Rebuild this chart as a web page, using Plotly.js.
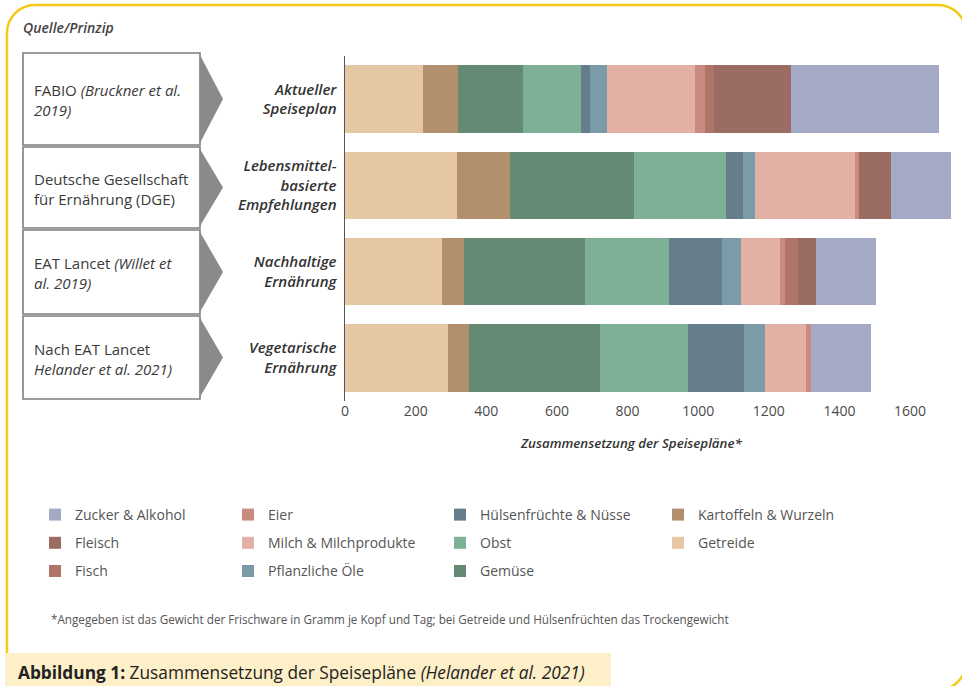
<!DOCTYPE html>
<html>
<head>
<meta charset="utf-8">
<script src="https://cdn.plot.ly/plotly-3.0.1.min.js"></script>
<style>
  html, body { margin: 0; padding: 0; background: #ffffff; }
  #chart { width: 962px; height: 686px; }
</style>
</head>
<body>
<div id="chart"></div>
<script>
// Diets (y categories) and their axis labels
const dietKeys = ['Aktueller Speiseplan', 'Lebensmittelbasierte Empfehlungen', 'Nachhaltige Ernährung', 'Vegetarische Ernährung'];
const dietLabels = ['Aktueller<br>Speiseplan', 'Lebensmittel-<br>basierte<br>Empfehlungen', 'Nachhaltige<br>Ernährung', 'Vegetarische<br>Ernährung'];

// Source / principle for each diet
const sourceLabels = [
  'FABIO <i>(Bruckner et al.</i><br><i>2019)</i>',
  'Deutsche Gesellschaft<br>für Ernährung (DGE)',
  'EAT Lancet <i>(Willet et</i><br><i>al. 2019)</i>',
  'Nach EAT Lancet<br><i>Helander et al. 2021)</i>'
];

// Food groups in stacking order (g per person and day)
const getreide      = [222, 317, 276, 293];
const kartoffeln    = [ 99, 150,  60,  59];
const gemuese       = [182, 351, 344, 369];
const obst          = [166, 260, 238, 251];
const huelsen       = [ 24,  50, 150, 159];
const oele          = [ 49,  32,  53,  59];
const milch         = [250, 283, 111, 116];
const eier          = [ 27,  13,  15,  13];
const fisch         = [ 26,   0,  35,   0];
const fleisch       = [218,  90,  51,   0];
const zucker        = [418, 171, 171, 171];

const groupNames = ['Getreide', 'Kartoffeln & Wurzeln', 'Gemüse', 'Obst', 'Hülsenfrüchte & Nüsse',
  'Pflanzliche Öle', 'Milch & Milchprodukte', 'Eier', 'Fisch', 'Fleisch', 'Zucker & Alkohol'];
const groupValues = [getreide, kartoffeln, gemuese, obst, huelsen, oele, milch, eier, fisch, fleisch, zucker];
const groupColors = ['#e5c8a3', '#b3906d', '#648a73', '#7db095', '#667d8c',
  '#7c9ba8', '#e2b0a5', '#c98a7f', '#b07468', '#9a6c63', '#a4a9c5'];
// legend column of each group
const groupLegend = ['legend4', 'legend4', 'legend3', 'legend3', 'legend3',
  'legend2', 'legend2', 'legend2', 'legend', 'legend', 'legend'];
// position of each group within its legend column (top to bottom)
const groupRank = [2, 1, 3, 2, 1, 3, 2, 1, 3, 2, 1];

const tickValues = [0, 200, 400, 600, 800, 1000, 1200, 1400, 1600];

const xTitle = 'Zusammensetzung der Speisepläne*';
const headerText = 'Quelle/Prinzip';
const footnote = '*Angegeben ist das Gewicht der Frischware in Gramm je Kopf und Tag; bei Getreide und Hülsenfrüchten das Trockengewicht';
const caption = '<b>Abbildung 1:</b> Zusammensetzung der Speisepläne <i>(Helander et al. 2021)</i>';

// page geometry
const W = 962, H = 686;
const M = { l: 345, r: 6, t: 56, b: 285 };
const PW = W - M.l - M.r, PH = H - M.t - M.b;
const px = x => (x - M.l) / PW;
const py = y => (M.t + PH - y) / PH;
const P = (x, y) => px(x).toFixed(5) + ',' + py(y).toFixed(5);

function roundRect(x0, y0, x1, y1, r) {
  const k = 0.5523 * r;
  return 'M' + P(x0, y1) +
    ' L' + P(x0, y0 + r) +
    ' C' + P(x0, y0 + r - k) + ' ' + P(x0 + r - k, y0) + ' ' + P(x0 + r, y0) +
    ' L' + P(x1 - r, y0) +
    ' C' + P(x1 - r + k, y0) + ' ' + P(x1, y0 + r - k) + ' ' + P(x1, y0 + r) +
    ' L' + P(x1, y1 - r) +
    ' C' + P(x1, y1 - r + k) + ' ' + P(x1 - r + k, y1) + ' ' + P(x1 - r, y1) +
    ' L' + P(x0, y1);
}

const traces = groupNames.map((name, i) => ({
  type: 'bar',
  orientation: 'h',
  name: name,
  x: groupValues[i],
  y: dietKeys,
  marker: { color: groupColors[i], line: { width: 0 } },
  legend: groupLegend[i],
  legendgroup: name,
  legendrank: groupRank[i],
  hovertemplate: name + ': %{x} g<extra></extra>'
}));

// left-hand source boxes and arrows
const boxRows = [[53, 145], [147, 228], [230, 314], [316, 399]];
const shapes = [];
shapes.push({
  type: 'path', xref: 'paper', yref: 'paper',
  path: roundRect(7, 5, 966, 690, 28),
  line: { color: '#f5c914', width: 2.5 }, layer: 'below'
});
boxRows.forEach(([t, b]) => {
  shapes.push({
    type: 'rect', xref: 'paper', yref: 'paper',
    x0: px(23), x1: px(200), y0: py(b), y1: py(t),
    line: { color: '#7d7d7d', width: 1.6 }, fillcolor: 'rgba(0,0,0,0)'
  });
  const c = (t + b) / 2;
  shapes.push({
    type: 'path', xref: 'paper', yref: 'paper',
    path: 'M' + P(200, t + 2) + ' L' + P(223, c) + ' L' + P(200, b - 2) + ' Z',
    fillcolor: '#8a8a8a', line: { width: 0 }
  });
});
shapes.push({
  type: 'rect', xref: 'paper', yref: 'paper',
  x0: px(5), x1: px(611), y0: py(690), y1: py(653),
  fillcolor: '#fdefc7', line: { width: 0 }
});

const annotations = [];
boxRows.forEach(([t, b], i) => {
  annotations.push({
    xref: 'paper', yref: 'paper', x: px(32), y: py((t + b) / 2 + 1),
    xanchor: 'left', yanchor: 'middle', align: 'left', showarrow: false,
    text: sourceLabels[i],
    font: { family: 'Open Sans', size: 15, color: '#3a3a3a' }
  });
});
annotations.push({
  xref: 'paper', yref: 'paper', x: px(21), y: py(28),
  xanchor: 'left', yanchor: 'middle', showarrow: false,
  text: headerText,
  font: { family: 'Open Sans', size: 14, color: '#444444', style: 'italic', weight: 600 }
});
annotations.push({
  xref: 'paper', yref: 'paper', x: px(631), y: py(443),
  xanchor: 'center', yanchor: 'middle', showarrow: false,
  text: xTitle,
  font: { family: 'Open Sans', size: 13.3, color: '#333333', style: 'italic', weight: 600 }
});
annotations.push({
  xref: 'paper', yref: 'paper', x: px(49), y: py(619),
  xanchor: 'left', yanchor: 'middle', showarrow: false,
  text: footnote,
  font: { family: 'Open Sans', size: 11.7, color: '#555555' }
});
annotations.push({
  xref: 'paper', yref: 'paper', x: px(16), y: py(672),
  xanchor: 'left', yanchor: 'middle', showarrow: false,
  text: caption,
  font: { family: 'Open Sans', size: 17.3, color: '#222222', stretch: 'condensed' }
});

const legendBase = {
  orientation: 'v', xanchor: 'left', yanchor: 'top', y: py(499),
  traceorder: 'grouped', tracegroupgap: 7,
  bgcolor: 'rgba(0,0,0,0)', borderwidth: 0,
  font: { family: 'Open Sans', size: 14, color: '#555555' }
};

const layout = {
  width: W, height: H,
  margin: M,
  paper_bgcolor: '#ffffff', plot_bgcolor: '#ffffff',
  font: { family: 'Open Sans', color: '#444444' },
  barmode: 'stack', bargap: 0.22,
  showlegend: true,
  legend:  Object.assign({}, legendBase, { x: px(35) }),
  legend2: Object.assign({}, legendBase, { x: px(228) }),
  legend3: Object.assign({}, legendBase, { x: px(440) }),
  legend4: Object.assign({}, legendBase, { x: px(658) }),
  xaxis: {
    range: [0, 1730], tickvals: tickValues, ticktext: tickValues.map(String),
    showgrid: false, zeroline: false, showline: false, ticks: '',
    tickfont: { family: 'Open Sans', size: 14, color: '#4a4a4a' },
    fixedrange: true
  },
  yaxis: {
    type: 'category', categoryorder: 'array', categoryarray: dietKeys,
    autorange: 'reversed',
    tickvals: dietKeys, ticktext: dietLabels,
    showgrid: false, zeroline: false, showline: true,
    linecolor: '#555555', linewidth: 1.5, ticks: '', ticklabelstandoff: 4,
    tickfont: { family: 'Open Sans', size: 15, color: '#333333', style: 'italic', weight: 600 },
    fixedrange: true
  },
  shapes: shapes,
  annotations: annotations
};

Plotly.newPlot('chart', traces, layout, { displayModeBar: false, staticPlot: true });
</script>
</body>
</html>
